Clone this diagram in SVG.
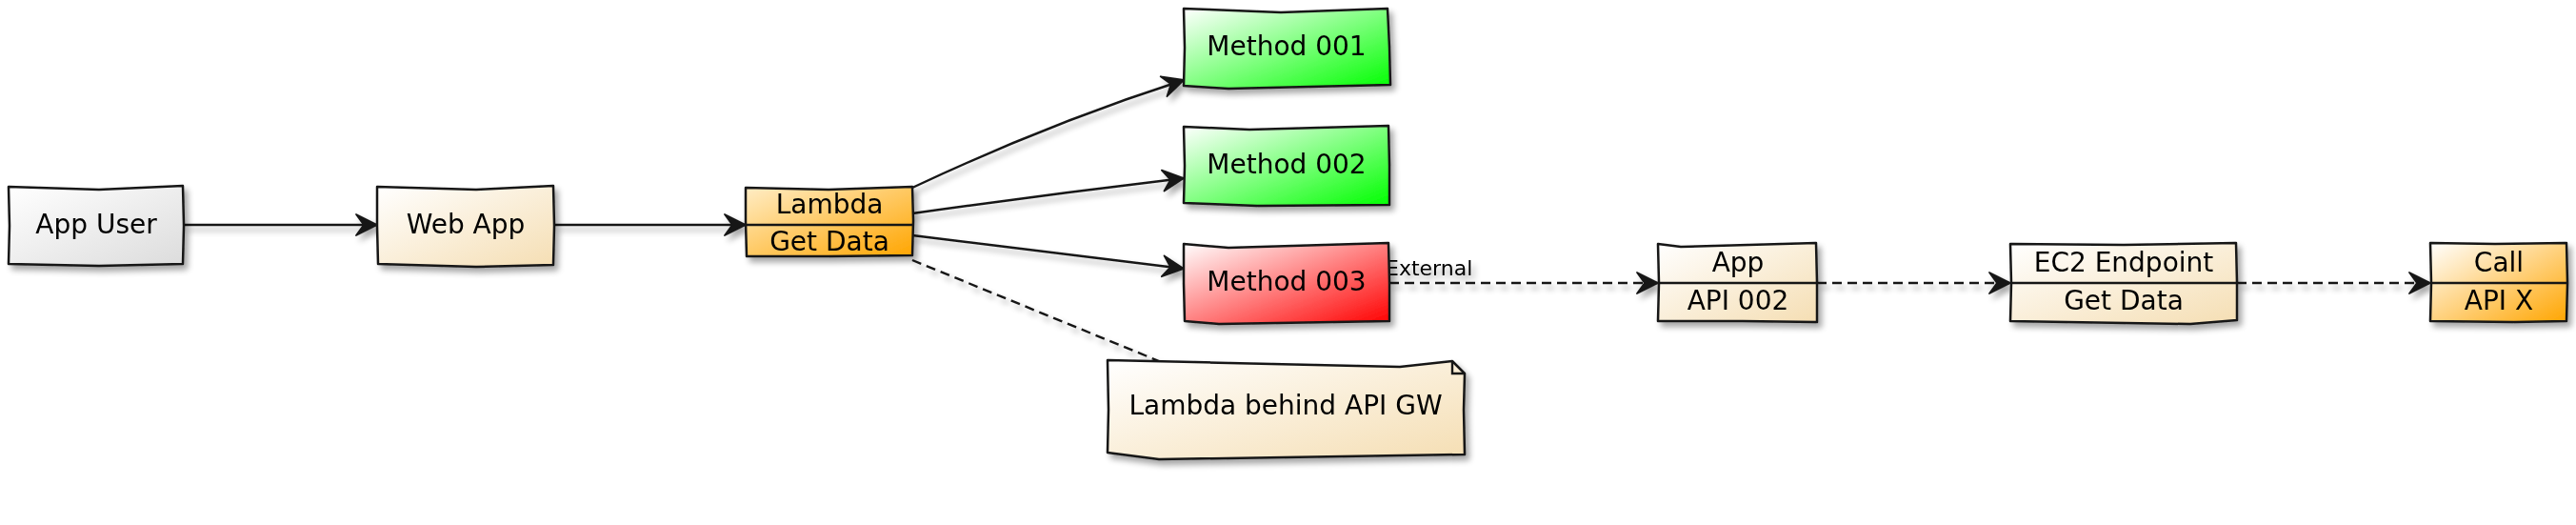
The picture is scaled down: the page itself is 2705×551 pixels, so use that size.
<svg xmlns="http://www.w3.org/2000/svg" width="2705" height="551" viewBox="0 0 2705 551">
<style>
.box{stroke:#181818;stroke-width:2.5;stroke-linejoin:round}
.t{font-family:"DejaVu Sans","Liberation Sans",sans-serif;font-size:28px;fill:#000;text-anchor:middle}
.lbl{font-family:"DejaVu Sans","Liberation Sans",sans-serif;font-size:22px;fill:#000}
.ln{fill:none;stroke:#181818;stroke-width:2.4}
.dash{stroke-dasharray:10,6}
</style>
<defs>
<filter id="sh" x="-20%" y="-20%" width="140%" height="150%">
<feGaussianBlur in="SourceAlpha" stdDeviation="3"/>
<feOffset dx="4" dy="5" result="b"/>
<feComponentTransfer><feFuncA type="linear" slope="0.35"/></feComponentTransfer>
<feMerge><feMergeNode/><feMergeNode in="SourceGraphic"/></feMerge>
</filter>
<linearGradient id="gGray" x1="0" y1="0" x2="1" y2="1"><stop offset="0" stop-color="#FFFFFF"/><stop offset="1" stop-color="#DCDCDC"/></linearGradient>
<linearGradient id="gBeige" x1="0" y1="0" x2="1" y2="1"><stop offset="0" stop-color="#FFFFFF"/><stop offset="1" stop-color="#F5DEB3"/></linearGradient>
<linearGradient id="gOrangeL" x1="0" y1="0" x2="1" y2="1"><stop offset="0" stop-color="#FFEDC6"/><stop offset="1" stop-color="#FFA500"/></linearGradient>
<linearGradient id="gOrange" x1="0" y1="0" x2="1" y2="1"><stop offset="0" stop-color="#FFFFFF"/><stop offset="1" stop-color="#FFA500"/></linearGradient>
<linearGradient id="gGreen" x1="0" y1="0" x2="1" y2="1"><stop offset="0" stop-color="#FFFFFF"/><stop offset="1" stop-color="#00FF00"/></linearGradient>
<linearGradient id="gRed" x1="0" y1="0" x2="1" y2="1"><stop offset="0" stop-color="#FFFFFF"/><stop offset="1" stop-color="#FF0000"/></linearGradient>
<marker id="arr" markerUnits="userSpaceOnUse" markerWidth="28" markerHeight="28" viewBox="0 0 28 28" refX="25" refY="14" orient="auto">
<path d="M3,3 L25,14 L3,25 L11,14 Z" fill="#181818" stroke="#181818" stroke-width="1.8" stroke-linejoin="round"/>
</marker>
</defs>
<rect width="2705" height="551" fill="#FFFFFF"/>

<g id="connectors" filter="url(#sh)">
<path class="ln" d="M193,236 L396,236" marker-end="url(#arr)"/>
<path class="ln" d="M582,236 L783,236" marker-end="url(#arr)"/>
<path class="ln" d="M958,197 Q1100,130 1243,84" marker-end="url(#arr)"/>
<path class="ln" d="M958,224 Q1100,204 1243,187" marker-end="url(#arr)"/>
<path class="ln" d="M958,247 L1243,282" marker-end="url(#arr)"/>
<path class="ln dash" d="M958,273 L1217,379"/>
<path class="ln dash" d="M1459,297 L1741,297" marker-end="url(#arr)"/>
<text class="lbl" x="1455" y="289">External</text>
<path class="ln dash" d="M1908,297 L2111,297" marker-end="url(#arr)"/>
<path class="ln dash" d="M2349,297 L2552,297" marker-end="url(#arr)"/>
</g>

<g id="app-user" filter="url(#sh)">
<path class="box" fill="url(#gGray)" d="M9,196 L104,199 L192,195 L193,237 L192,277 L104,279 L9,277 L10,237 Z"/>
<text class="t" x="101" y="245">App User</text>
</g>

<g id="web-app" filter="url(#sh)">
<path class="box" fill="url(#gBeige)" d="M396,196 L500,199 L581,195 L582,237 L581,278 L500,280 L397,277 L396,237 Z"/>
<text class="t" x="489" y="245">Web App</text>
</g>

<g id="lambda" filter="url(#sh)">
<path class="box" fill="url(#gOrangeL)" d="M783,197 L870,199 L958,196 L959,232 L958,268 L870,269 L784,269 L783,232 Z"/>
<path class="ln" d="M783,236 L959,236"/>
<text class="t" x="871" y="224">Lambda</text>
<text class="t" x="871" y="263">Get Data</text>
</g>

<g id="method-001" filter="url(#sh)">
<path class="box" fill="url(#gGreen)" d="M1243,9 L1345,13 L1457,9 L1459,50 L1460,89 L1290,93 L1243,90 L1244,50 Z"/>
<text class="t" x="1351" y="58">Method 001</text>
</g>

<g id="method-002" filter="url(#sh)">
<path class="box" fill="url(#gGreen)" d="M1243,133 L1312,136 L1458,132 L1459,174 L1459,215 L1320,216 L1243,213 L1244,174 Z"/>
<text class="t" x="1351" y="182">Method 002</text>
</g>

<g id="method-003" filter="url(#sh)">
<path class="box" fill="url(#gRed)" d="M1243,256 L1290,260 L1458,255 L1459,297 L1459,337 L1280,340 L1244,337 L1243,297 Z"/>
<text class="t" x="1351" y="305">Method 003</text>
</g>

<g id="note" filter="url(#sh)">
<path class="box" fill="url(#gBeige)" d="M1163,378 L1470,385 L1525,379 L1538,392 L1537,430 L1538,477 L1217,482 L1163,475 L1164,430 Z"/>
<path class="ln" d="M1525,379 L1525,392 L1538,392"/>
<text class="t" x="1350" y="435">Lambda behind API GW</text>
</g>

<g id="app-api" filter="url(#sh)">
<path class="box" fill="url(#gBeige)" d="M1741,256 L1765,259 L1907,255 L1908,297 L1908,338 L1830,337 L1741,337 L1742,297 Z"/>
<path class="ln" d="M1741,297 L1908,297"/>
<text class="t" x="1825" y="285">App</text>
<text class="t" x="1825" y="325">API 002</text>
</g>

<g id="ec2" filter="url(#sh)">
<path class="box" fill="url(#gBeige)" d="M2111,256 L2230,257 L2348,255 L2349,297 L2349,336 L2300,340 L2111,337 L2112,297 Z"/>
<path class="ln" d="M2111,297 L2349,297"/>
<text class="t" x="2230" y="285">EC2 Endpoint</text>
<text class="t" x="2230" y="325">Get Data</text>
</g>

<g id="call-api" filter="url(#sh)">
<path class="box" fill="url(#gOrange)" d="M2552,255 L2620,256 L2695,255 L2696,297 L2695,337 L2640,338 L2552,337 L2553,297 Z"/>
<path class="ln" d="M2552,297 L2696,297"/>
<text class="t" x="2624" y="285">Call</text>
<text class="t" x="2624" y="325">API X</text>
</g>
</svg>
